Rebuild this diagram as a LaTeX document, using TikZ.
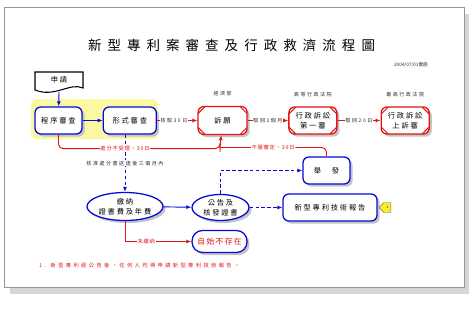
\documentclass[tikz,border=0pt]{standalone}
\usepackage{fontspec}
\newfontfamily\cjk{Noto Sans CJK TC}
\usetikzlibrary{arrows.meta,positioning,shapes.geometric,shapes.symbols,shadows}
\definecolor{flowBlue}{RGB}{10,10,215}
\definecolor{flowRed}{RGB}{225,20,20}
\definecolor{markYellow}{RGB}{250,248,160}
\definecolor{tagYellow}{RGB}{250,238,40}
\definecolor{pageLine}{RGB}{150,150,150}
\definecolor{pageShade}{RGB}{214,214,214}
\definecolor{boxShade}{RGB}{196,196,196}
\definecolor{mutedInk}{RGB}{45,45,45}
\tikzset{
  titlefont/.style={font=\cjk\fontsize{11.5}{13}\selectfont\addfontfeatures{LetterSpace=45}},
  boxfont/.style={font=\cjk\fontsize{6.2}{8.2}\selectfont\addfontfeatures{LetterSpace=25}},
  notefont/.style={font=\cjk\fontsize{4.3}{5}\selectfont\addfontfeatures{LetterSpace=30}, text=mutedInk},
  datefont/.style={font=\cjk\fontsize{4}{5}\selectfont, text=mutedInk},
  footfont/.style={font=\cjk\fontsize{4.5}{5}\selectfont\addfontfeatures{LetterSpace=45}, text=flowRed},
  box/.style={boxfont, draw=flowBlue, line width=1.1pt, rounded corners=5pt, fill=white, align=center,
    inner sep=0pt, minimum height=0.81cm, minimum width=1.41cm,
    drop shadow={shadow xshift=2.2pt, shadow yshift=-2.2pt, fill=boxShade, opacity=1}},
  bluebox/.style={box},
  redbox/.style={box, draw=flowRed, path picture={
    \foreach \c/\dx/\dy in {north west/1/-1, north east/-1/-1, south west/1/1, south east/-1/1}
      \draw[flowRed, line width=0.8pt] ([xshift=\dx*6pt]path picture bounding box.\c) -- ([yshift=\dy*6pt]path picture bounding box.\c);
  }},
  ovalbox/.style={box, ellipse},
  pillbox/.style={box, rounded corners=9pt, minimum width=1.65cm, minimum height=0.66cm, text=flowRed,
    font=\cjk\fontsize{6.6}{8}\selectfont\addfontfeatures{LetterSpace=18}},
  tagmark/.style={signal, signal to=west, fill=tagYellow, draw=black!55, line width=0.4pt,
    minimum width=0.36cm, minimum height=0.3cm, inner sep=0.5pt, font=\fontsize{3}{3}\selectfont},
  flow/.style={-{Latex[length=1.5mm,width=1.2mm]}, line width=0.8pt},
  blueflow/.style={flow, draw=flowBlue},
  dashflow/.style={blueflow, densely dashed},
  redflow/.style={flow, draw=flowRed},
  redline/.style={line width=0.8pt, draw=flowRed},
  steplabel/.style={notefont, fill=white, inner sep=0.6pt},
  redlabel/.style={steplabel, text=flowRed, font=\cjk\fontsize{4.5}{5}\selectfont\addfontfeatures{LetterSpace=15}}
}
\begin{document}
\begin{tikzpicture}[x=0.03cm, y=-0.03cm]
  \useasboundingbox (0,0) rectangle (473,309);
  % page sheet
  \fill[pageShade] (10,14) rectangle (469,294);
  \draw[pageLine, fill=white, line width=0.7pt] (4,7) rectangle (464,287);
  \node[titlefont] (title) at (231.5,45.5) {新型專利案審查及行政救濟流程圖};
  \node[datefont] (date) at (411,65) {2004/07/01實施};

  % highlighted examination stage
  \fill[markYellow, rounded corners=5pt] (31,99) rectangle (158,139);

  % application document
  \draw[black, line width=0.9pt, fill=white] (35,72) -- (83,72) -- (83,88) .. controls (70,82) and (55,98) .. (35,90) -- cycle;
  \node[boxfont] (apply) at (59,80) {申請};
  \coordinate (applyfoot) at (59,92);

  % top row
  \node[bluebox] (prog) at (58.5,120.5) {程序審查};
  \node[bluebox, right=0.6cm of prog, minimum width=1.59cm] (form) {形式審查};
  \node[redbox, right=1.215cm of form, minimum width=1.47cm, minimum height=0.84cm] (appeal) {訴願};
  \node[redbox, right=1.215cm of appeal, minimum width=1.44cm] (court1) {行政訴訟\\第一審};
  \node[redbox, right=1.29cm of court1, minimum width=1.44cm] (court2) {行政訴訟\\上訴審};
  \node[notefont, above=0.17cm of appeal] (moea) {經濟部};
  \node[notefont, above=0.17cm of court1] (highc) {高等行政法院};
  \node[notefont, above=0.17cm of court2] (supc) {最高行政法院};

  % lower part
  \node[ovalbox, minimum width=2.28cm, minimum height=0.84cm] (pay) at (125,206.5) {繳納\\證書費及年費};
  \node[ovalbox, minimum width=1.71cm, minimum height=0.78cm] (grant) at (220.5,207.5) {公告及\\核發證書};
  \node[bluebox] (invalid) at (326.5,170.5) {舉\hspace{9pt}發};
  \node[bluebox, minimum width=2.82cm] (report) at (330,207.5) {新型專利技術報告};
  \node[pillbox] (void) at (219.5,241.5) {自始不存在};
  \node[tagmark, right=0.03cm of report] (tag) {1};
  \node[footfont, anchor=west] (foot) at (35,266) {1. 新型專利經公告後，任何人均得申請新型專利技術報告。};
  \coordinate (merge) at (220,147.5);

  % connectors
  \draw[blueflow] (applyfoot) -- (prog);
  \draw[blueflow] (prog) -- (form);
  \draw[redflow] (form) -- node[steplabel, pos=0.42] {核駁30日} (appeal);
  \draw[redflow] (appeal) -- node[steplabel] {駁回2個月} (court1);
  \draw[redflow] (court1) -- node[steplabel] {駁回20日} (court2);
  \draw[dashflow] (form.south -| pay.north) -- node[steplabel] {核准處分書送達後三個月內} (pay);
  \draw[redflow, rounded corners=4pt] (prog.south) -- ++(0,14) -| node[redlabel, pos=0.206] {處分不受理，30日} (merge) -- (appeal);
  \draw[redline, rounded corners=4pt] (invalid.north) |- node[redlabel, pos=0.751] {不服審定，30日} (merge);
  \draw[dashflow] (grant.north) |- (invalid);
  \draw[dashflow] (grant) -- (report);
  \draw[blueflow] (pay) -- (grant);
  \draw[redflow] (pay.south) |- node[redlabel, pos=0.66] {未繳納} (void);
\end{tikzpicture}
\end{document}
